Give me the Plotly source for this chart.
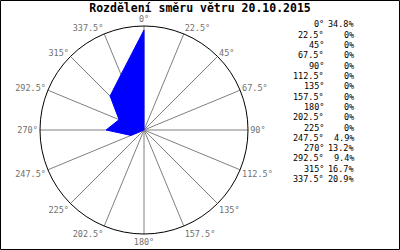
import plotly.graph_objects as go

directions = [0, 22.5, 45, 67.5, 90, 112.5, 135, 157.5, 180, 202.5, 225, 247.5, 270, 292.5, 315, 337.5]
percents = [34.8, 0, 0, 0, 0, 0, 0, 0, 0, 0, 0, 4.9, 13.2, 9.4, 16.7, 20.9]
title_text = "Rozdělení směru větru 20.10.2015"
tick_labels = [f"{d:g}°" for d in directions]

W, H = 400, 250
FONT = "DejaVu Sans Mono"

fig = go.Figure()
fig.add_trace(go.Scatterpolar(
    r=percents + [percents[0]],
    theta=directions + [directions[0]],
    mode="lines",
    fill="toself",
    fillcolor="#0000ff",
    line=dict(color="#0000ff", width=1),
    hoverinfo="skip",
    showlegend=False,
))

annotations = []
row0, step = 24.5, 10.3
for i, (d, p) in enumerate(zip(directions, percents)):
    y = 1 - (row0 + step * i) / H
    annotations.append(dict(x=326 / W, y=y, xref="paper", yref="paper",
                            text=f"{d:g}°", showarrow=False, xanchor="right",
                            yanchor="middle", font=dict(family=FONT, size=8.5, color="black")))
    annotations.append(dict(x=356 / W, y=y, xref="paper", yref="paper",
                            text=f"{p:g}%", showarrow=False, xanchor="right",
                            yanchor="middle", font=dict(family=FONT, size=8.5, color="black")))

cx, cy, rad = 144, 130, 104
fig.update_layout(
    width=W, height=H,
    margin=dict(l=0, r=0, t=0, b=0),
    paper_bgcolor="white",
    title=dict(text=title_text, x=0.5, xanchor="center", y=1 - 8 / H, yanchor="middle",
               font=dict(family=FONT, size=11.5, color="black", weight="bold")),
    polar=dict(
        domain=dict(x=[(cx - rad) / W, (cx + rad) / W], y=[1 - (cy + rad) / H, 1 - (cy - rad) / H]),
        bgcolor="white",
        radialaxis=dict(range=[0, 36.2], showgrid=False, showline=False, showticklabels=False, ticks=""),
        angularaxis=dict(
            rotation=90, direction="clockwise",
            tickmode="array", tickvals=directions, ticktext=tick_labels,
            showgrid=True, gridcolor="#808080", gridwidth=1,
            showline=True, linecolor="black", linewidth=1,
            ticks="", tickfont=dict(family=FONT, size=8.5, color="#707070"),
        ),
    ),
    annotations=annotations,
    shapes=[dict(type="rect", xref="paper", yref="paper",
                 x0=0.5 / W, x1=1 - 0.5 / W, y0=0.5 / H, y1=1 - 0.5 / H,
                 line=dict(color="black", width=1), fillcolor="rgba(0,0,0,0)")],
)

fig.write_html("out.html")
